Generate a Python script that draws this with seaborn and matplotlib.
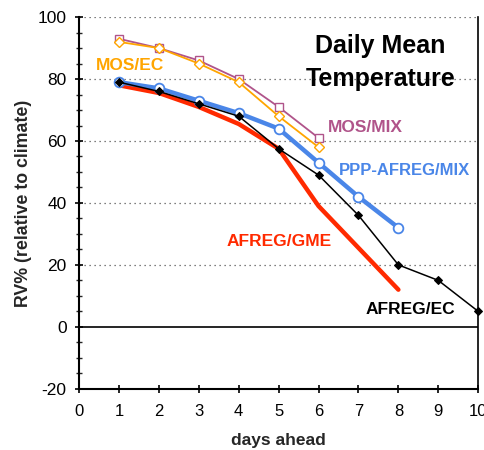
import matplotlib
matplotlib.use('Agg')
import matplotlib.pyplot as plt
from matplotlib.ticker import MultipleLocator
import seaborn as sns

# data (RV% per forecast day)
days_mos = [1, 2, 3, 4, 5, 6]
mos_mix = [93, 90, 86, 80, 71, 61]
mos_ec = [92, 90, 85, 79, 68, 58]

days_ppp = [1, 2, 3, 4, 5, 6, 7, 8]
ppp_afreg_mix = [79, 77, 73, 69, 64, 53, 42, 32]

days_gme = [1, 2, 3, 4, 5, 6, 7, 8]
afreg_gme = [78, 75.5, 71, 65.5, 57.5, 39, 25.5, 12]

days_ec = [1, 2, 3, 4, 5, 6, 7, 8, 9, 10]
afreg_ec = [79, 76, 72, 68, 57.5, 49, 36, 20, 15, 5]

sns.set_style('white')
plt.rcParams['font.family'] = ['Liberation Sans', 'DejaVu Sans']
plt.rcParams['axes.unicode_minus'] = False

ORANGE = '#FFA500'
PURPLE = '#B0548A'
BLUE = '#4A86E8'
RED = '#FF2A00'

fig = plt.figure(figsize=(4.85, 4.5), dpi=100)
ax = fig.add_axes([0.163, 0.136, 0.823, 0.826])

# grid / zero line
for g in [20, 40, 60, 80, 100]:
    ax.axhline(g, color='#555555', lw=0.9, ls=(0, (1, 3)), zorder=0)
ax.axhline(0, color='black', lw=1.2, zorder=1)

sns.lineplot(x=days_mos, y=mos_mix, ax=ax, color=PURPLE, lw=1.3,
             marker='s', markersize=6, markerfacecolor='white',
             markeredgecolor=PURPLE, markeredgewidth=1)
sns.lineplot(x=days_mos, y=mos_ec, ax=ax, color=ORANGE, lw=1.3,
             marker='D', markersize=5, markerfacecolor='white',
             markeredgecolor=ORANGE, markeredgewidth=1)
sns.lineplot(x=days_gme, y=afreg_gme, ax=ax, color=RED, lw=3.2)
sns.lineplot(x=days_ppp, y=ppp_afreg_mix, ax=ax, color=BLUE, lw=3.2,
             marker='o', markersize=7, markerfacecolor='white',
             markeredgecolor=BLUE, markeredgewidth=1.3)
sns.lineplot(x=days_ec, y=afreg_ec, ax=ax, color='black', lw=1.1,
             marker='D', markersize=4.5, markerfacecolor='black',
             markeredgecolor='black', clip_on=False)

ax.set_xlim(0, 10)
ax.set_ylim(-20, 100)
ax.xaxis.set_major_locator(MultipleLocator(1))
ax.yaxis.set_major_locator(MultipleLocator(20))
ax.yaxis.set_minor_locator(MultipleLocator(5))
ax.tick_params(axis='both', which='major', direction='inout', length=6,
               width=1.2, labelsize=12.5, colors='black', pad=6)
ax.tick_params(axis='y', which='minor', direction='inout', length=5,
               width=1, left=True)
ax.tick_params(axis='x', which='major', bottom=True, labelsize=12, pad=8)
ax.tick_params(axis='y', which='major', left=True)

for side in ['left', 'bottom', 'right']:
    ax.spines[side].set_color('black')
    ax.spines[side].set_linewidth(1.5)
ax.spines['right'].set_linewidth(1.2)
ax.spines['top'].set_visible(False)

ax.set_xlabel('days ahead', fontsize=12.5, fontweight='bold', labelpad=10)
ax.set_ylabel('RV% (relative to climate)', fontsize=12.8, fontweight='bold',
              labelpad=4)

# series labels
ax.text(1.28, 84.5, 'MOS/EC', color=ORANGE, fontsize=12.5, fontweight='bold',
        ha='center', va='center')
ax.text(7.17, 64.2, 'MOS/MIX', color=PURPLE, fontsize=12.5, fontweight='bold',
        ha='center', va='center')
ax.text(8.15, 50.6, 'PPP-AFREG/MIX', color=BLUE, fontsize=12,
        fontweight='bold', ha='center', va='center')
ax.text(5.0, 27.4, 'AFREG/GME', color=RED, fontsize=12.5, fontweight='bold',
        ha='center', va='center')
ax.text(8.3, 5.5, 'AFREG/EC', color='black', fontsize=12.5, fontweight='bold',
        ha='center', va='center')
ax.text(7.55, 85.3, 'Daily Mean\nTemperature', color='black', fontsize=18,
        fontweight='bold', ha='center', va='center', linespacing=1.45)

fig.savefig('out.png', dpi=100, facecolor='white')
